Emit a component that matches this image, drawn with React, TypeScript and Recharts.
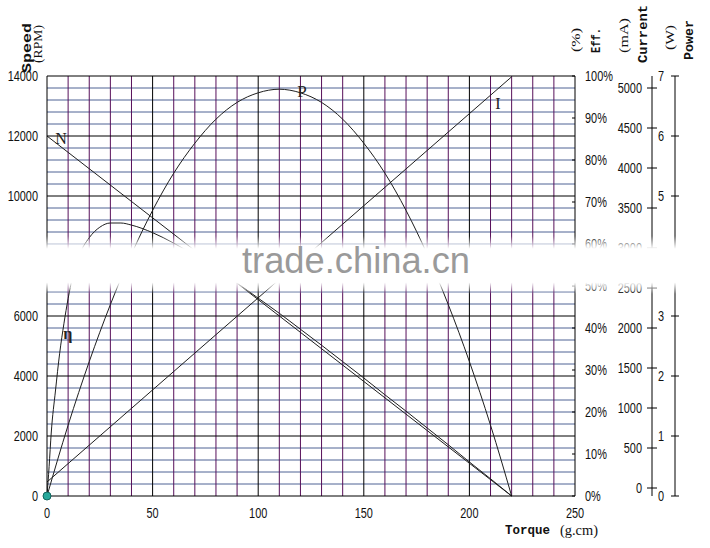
import React from 'react';
import { ComposedChart, Line, XAxis, YAxis, ReferenceLine, ReferenceDot } from 'recharts';

// ---- data ----
const torqueTicks = [0, 50, 100, 150, 200, 250];
const speedTicks = [0, 2000, 4000, 6000, 8000, 10000, 12000, 14000];
const effTicks = [0, 10, 20, 30, 40, 50, 60, 70, 80, 90, 100];
const currentTicks = [0, 500, 1000, 1500, 2000, 2500, 3000, 3500, 4000, 4500, 5000];
const powerTicks = [0, 1, 2, 3, 4, 5, 6, 7];

const speedTorque = [0, 220];
const speedValues = [12000, 0];

const currentTorque = [0, 220];
const currentValues = [75, 5140];

const effTorque = [0, 1, 2, 4, 6, 8, 10, 12, 15, 20, 25, 30, 35, 40, 50, 60, 70, 80, 90, 100, 110, 120, 130, 140, 150, 160, 170, 180, 190, 200, 210, 220];
const effValues = [0, 7, 15, 25, 34, 41, 47, 52, 57, 61.5, 64, 65, 65, 64.5, 62.7, 60.2, 57.3, 54.1, 50.7, 47.1, 43.5, 39.7, 35.9, 32, 28.1, 24.1, 20.2, 16.2, 12.2, 8.1, 4.1, 0];

const powerTorque = [0, 10, 20, 30, 40, 50, 60, 70, 80, 90, 100, 110, 120, 130, 140, 150, 160, 170, 180, 190, 200, 210, 220];
const powerValues = [0, 1.18, 2.24, 3.19, 4.03, 4.76, 5.38, 5.88, 6.28, 6.56, 6.72, 6.78, 6.72, 6.56, 6.28, 5.88, 5.38, 4.76, 4.03, 3.19, 2.24, 1.18, 0];

const minorTorque = Array.from({ length: 24 }, (_, i) => (i + 1) * 10).filter((v) => v % 50 !== 0);
const majorTorque = [50, 100, 150, 200];
const minorSpeed = Array.from({ length: 34 }, (_, i) => (i + 1) * 400).filter((v) => v % 2000 !== 0);
const majorSpeed = [2000, 4000, 6000, 8000, 10000, 12000, 14000];

const toData = (ts: number[], vs: number[]) => ts.map((t, i) => ({ t, v: vs[i] }));
const speedData = toData(speedTorque, speedValues);
const currentData = toData(currentTorque, currentValues);
const effData = toData(effTorque, effValues);
const powerData = toData(powerTorque, powerValues);

const TICK_FONT = 'Liberation Sans, Arial, sans-serif';
const SERIF = 'Liberation Serif, Times New Roman, serif';
const BOLD = 'Liberation Mono, Courier New, monospace';
const LINE = '#1e1e1e';
const H_MINOR = '#4f6394';
const V_MINOR = '#57105a';

// axis ids chosen so that their sorted order gives the right-side stacking order
const Y_SPEED = 'y0speed';
const Y_EFF = 'y1eff';
const Y_CUR = 'y2current';
const Y_POW = 'y3power';

const NumText = ({ x, y, text, anchor }: { x: number; y: number; text: string; anchor: string }) => (
  <g transform={`translate(${x},${y}) scale(0.78,1)`}>
    <text x={0} y={0} textAnchor={anchor} fontSize={14} fontFamily={TICK_FONT} fill="#111" style={{ fill: '#111' }}>
      {text}
    </text>
  </g>
);

const SpeedTick = (p: any) => <NumText x={p.x - 9} y={p.y + 5} text={String(p.payload.value)} anchor="end" />;
const TorqueTick = (p: any) => <NumText x={p.x} y={p.y + 22} text={String(p.payload.value)} anchor="middle" />;
const EffTick = (p: any) => (
  <g>
    <line x1={p.x - 3} y1={p.y} x2={p.x} y2={p.y} stroke="#000" />
    <NumText x={p.x + 10} y={p.y + 5} text={`${p.payload.value}%`} anchor="start" />
  </g>
);
const CurrentTick = (p: any) => (
  <g>
    <line x1={p.x - 5} y1={p.y} x2={p.x + 5} y2={p.y} stroke="#000" />
    <NumText x={p.x - 10} y={p.y + 5} text={String(p.payload.value)} anchor="end" />
  </g>
);
const PowerTick = (p: any) => (
  <g>
    <line x1={p.x - 4} y1={p.y} x2={p.x + 4} y2={p.y} stroke="#000" />
    <NumText x={p.x - 11} y={p.y + 5} text={String(p.payload.value)} anchor="end" />
  </g>
);

const VTitle = ({ cx, cy, text, len, bold, size = 13 }: { cx: number; cy: number; text: string; len: number; bold?: boolean; size?: number }) => (
  <text
    x={cx}
    y={cy}
    transform={`rotate(-90 ${cx} ${cy})`}
    textAnchor="middle"
    dominantBaseline="central"
    fontSize={size}
    fontWeight={bold ? 'bold' : 'normal'}
    fontFamily={bold ? BOLD : SERIF}
    textLength={len}
    lengthAdjust="spacingAndGlyphs"
    fill="#111"
  >
    {text}
  </text>
);

const curveLabel = (value: string, size: number, bold = false) => ({
  value,
  position: 'center' as const,
  fontSize: size,
  fontFamily: SERIF,
  fontWeight: bold ? 'bold' : 'normal',
  fill: '#222',
});

export default function App() {
  return (
    <div style={{ position: 'absolute', left: 0, top: 0, width: 710, height: 548, background: '#fff' }}>
      <ComposedChart width={710} height={548} margin={{ top: 76, right: 5, bottom: 22, left: 7 }}>
        <XAxis
          xAxisId="t"
          dataKey="t"
          type="number"
          domain={[0, 250]}
          ticks={torqueTicks}
          height={30}
          tickSize={0}
          tickMargin={0}
          tickLine={false}
          axisLine={{ stroke: '#000' }}
          tick={TorqueTick}
          allowDataOverflow
        />
        <YAxis
          yAxisId={Y_SPEED}
          orientation="left"
          type="number"
          domain={[0, 14000]}
          ticks={speedTicks}
          width={40}
          tickSize={0}
          tickMargin={0}
          tickLine={false}
          axisLine={{ stroke: '#000' }}
          tick={SpeedTick}
          interval={0}
        />
        <YAxis
          yAxisId={Y_EFF}
          orientation="right"
          type="number"
          domain={[0, 100]}
          ticks={effTicks}
          width={77}
          tickSize={0}
          tickMargin={0}
          tickLine={false}
          axisLine={{ stroke: '#000' }}
          tick={EffTick}
          interval={0}
        />
        <YAxis
          yAxisId={Y_CUR}
          orientation="right"
          type="number"
          domain={[-100, 5150]}
          ticks={currentTicks}
          width={23}
          tickSize={0}
          tickMargin={0}
          tickLine={false}
          axisLine={{ stroke: '#000' }}
          tick={CurrentTick}
          interval={0}
          allowDataOverflow
        />
        <YAxis
          yAxisId={Y_POW}
          orientation="right"
          type="number"
          domain={[0, 7]}
          ticks={powerTicks}
          width={30}
          tickSize={0}
          tickMargin={0}
          tickLine={false}
          axisLine={{ stroke: '#000' }}
          tick={PowerTick}
          interval={0}
          allowDataOverflow
        />

        {minorSpeed.map((v) => (
          <ReferenceLine key={`hs${v}`} xAxisId="t" yAxisId={Y_SPEED} y={v} stroke={H_MINOR} strokeWidth={1} />
        ))}
        {minorTorque.map((v) => (
          <ReferenceLine key={`vt${v}`} xAxisId="t" yAxisId={Y_SPEED} x={v} stroke={V_MINOR} strokeWidth={1} />
        ))}
        {majorSpeed.map((v) => (
          <ReferenceLine key={`hm${v}`} xAxisId="t" yAxisId={Y_SPEED} y={v} stroke="#000" strokeWidth={1} />
        ))}
        {majorTorque.map((v) => (
          <ReferenceLine key={`vm${v}`} xAxisId="t" yAxisId={Y_SPEED} x={v} stroke="#000" strokeWidth={1} />
        ))}

        <Line xAxisId="t" yAxisId={Y_SPEED} data={speedData} dataKey="v" type="linear" dot={false} stroke={LINE} strokeWidth={1} isAnimationActive={false} />
        <Line xAxisId="t" yAxisId={Y_EFF} data={effData} dataKey="v" type="monotone" dot={false} stroke={LINE} strokeWidth={1} isAnimationActive={false} />
        <Line xAxisId="t" yAxisId={Y_POW} data={powerData} dataKey="v" type="monotone" dot={false} stroke={LINE} strokeWidth={1} isAnimationActive={false} />
        <Line xAxisId="t" yAxisId={Y_CUR} data={currentData} dataKey="v" type="linear" dot={false} stroke={LINE} strokeWidth={1} isAnimationActive={false} />

        <ReferenceDot xAxisId="t" yAxisId={Y_SPEED} x={6.6} y={11930} r={0.1} fill="none" stroke="none" label={curveLabel('N', 16)} />
        <ReferenceDot xAxisId="t" yAxisId={Y_SPEED} x={120.7} y={13500} r={0.1} fill="none" stroke="none" label={curveLabel('P', 17)} />
        <ReferenceDot xAxisId="t" yAxisId={Y_SPEED} x={213.5} y={13100} r={0.1} fill="none" stroke="none" label={curveLabel('I', 16)} />
        <ReferenceDot xAxisId="t" yAxisId={Y_SPEED} x={9.9} y={5430} r={0.1} fill="none" stroke="none" label={curveLabel('η', 16, true)} />
        <ReferenceDot xAxisId="t" yAxisId={Y_SPEED} x={0} y={0} r={4} fill="#27a89b" stroke="#11665e" strokeWidth={1} ifOverflow="visible" />
      </ComposedChart>

      <svg width={710} height={548} style={{ position: 'absolute', left: 0, top: 0, pointerEvents: 'none' }}>
        <defs>
          <linearGradient id="band" x1="0" y1="0" x2="0" y2="1">
            <stop offset="0" stopColor="#fff" stopOpacity={0} />
            <stop offset="0.22" stopColor="#fff" stopOpacity={1} />
            <stop offset="0.8" stopColor="#fff" stopOpacity={1} />
            <stop offset="1" stopColor="#fff" stopOpacity={0} />
          </linearGradient>
        </defs>
        <rect x={0} y={236} width={710} height={58} fill="url(#band)" />
        <text x={242} y={273} fontSize={36} fontFamily={TICK_FONT} fill="#9a9a9a" textLength={228} lengthAdjust="spacingAndGlyphs">
          trade.china.cn
        </text>

        <VTitle cx={27.5} cy={48} text="Speed" len={50} bold size={12} />
        <VTitle cx={38} cy={44} text="(RPM)" len={38} size={12} />
        <VTitle cx={575} cy={40} text="(%)" len={24} />
        <VTitle cx={596.5} cy={40.5} text="Eff." len={25} bold />
        <VTitle cx={623.5} cy={35.5} text="(mA)" len={35} />
        <VTitle cx={643} cy={34} text="Current" len={58} bold />
        <VTitle cx={669} cy={37.5} text="(W)" len={25} />
        <VTitle cx={689} cy={40} text="Power" len={40} bold />

        <text x={527.5} y={530} textAnchor="middle" dominantBaseline="central" fontSize={13} fontWeight="bold" fontFamily={BOLD} textLength={45} lengthAdjust="spacingAndGlyphs" fill="#111">
          Torque
        </text>
        <text x={579} y={530} textAnchor="middle" dominantBaseline="central" fontSize={14} fontFamily={SERIF} textLength={38} lengthAdjust="spacingAndGlyphs" fill="#111">
          (g.cm)
        </text>
      </svg>
    </div>
  );
}
